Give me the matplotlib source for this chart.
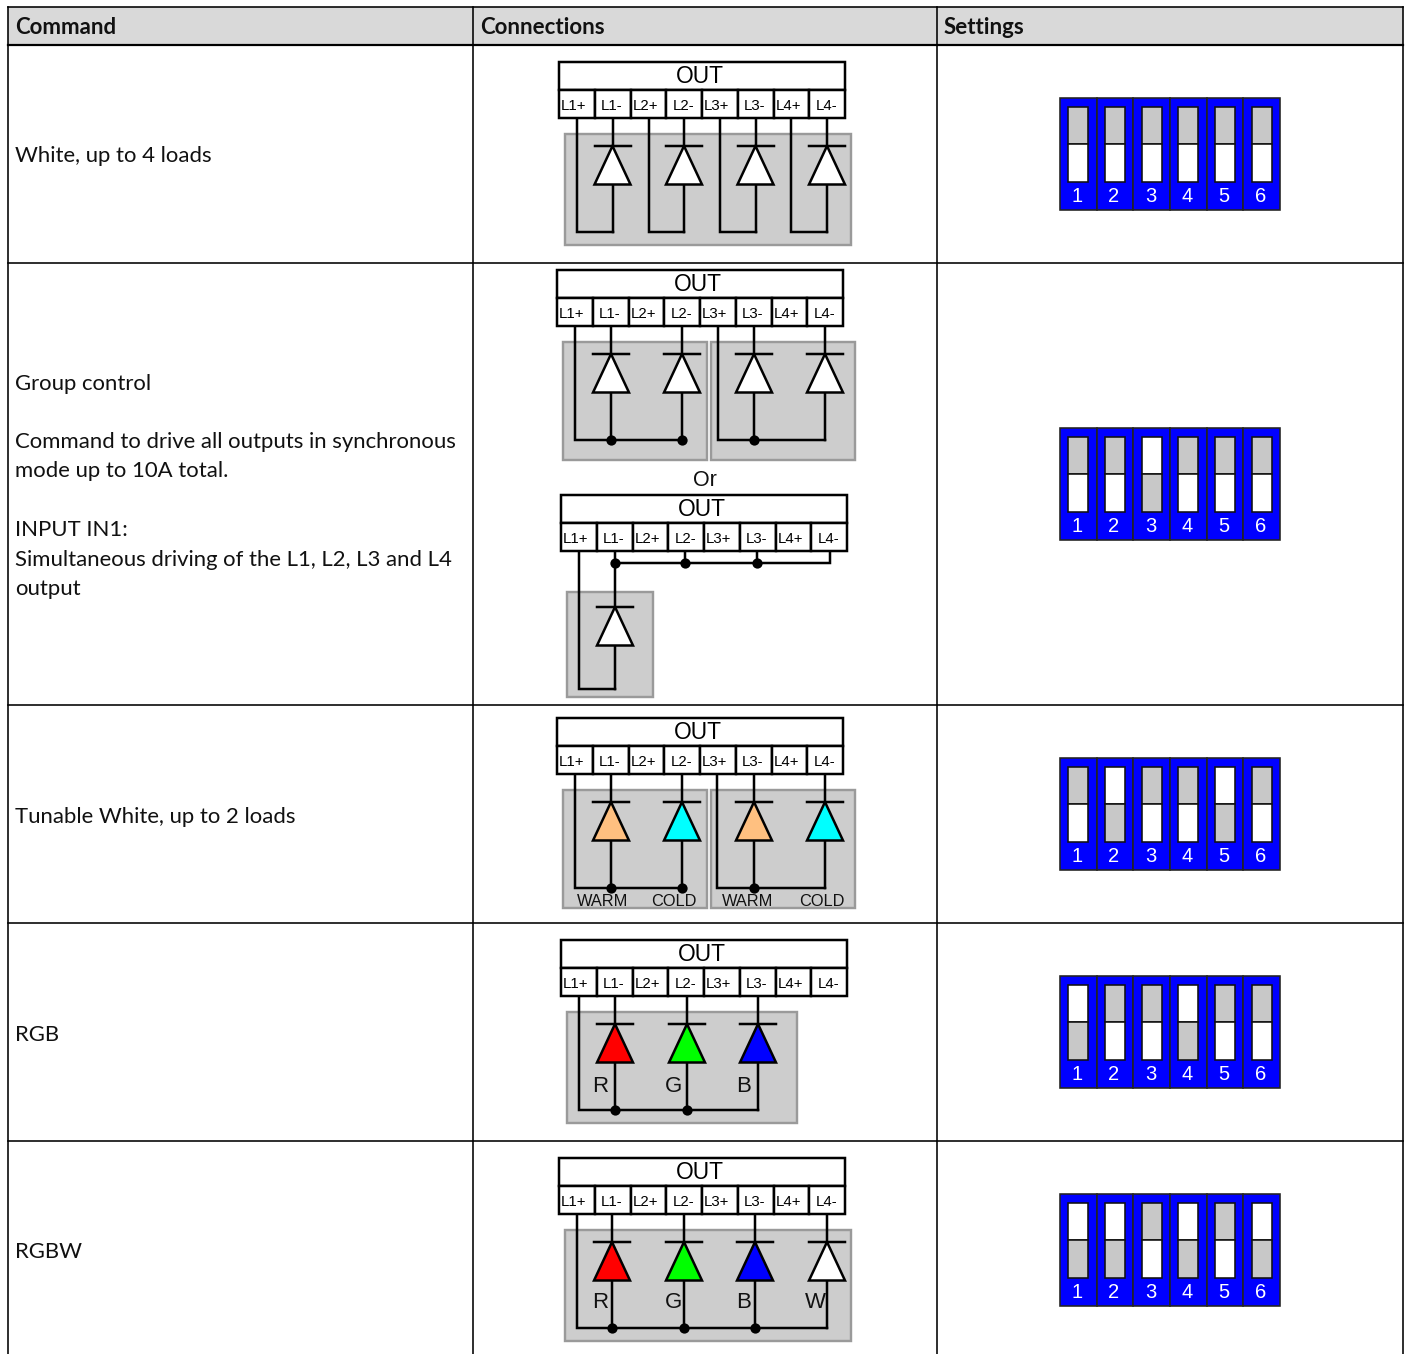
import matplotlib
matplotlib.use("Agg")
import matplotlib.pyplot as plt
from matplotlib.patches import Rectangle, Polygon

W, H = 1407, 1354
PX = 0.72

# ---- table content
col_x = [8, 473, 937, 1403]
row_y = [7, 45, 263, 705, 923, 1141]
headers = ["Command", "Connections", "Settings"]
command_lines = [
    ("White, up to 4 loads", 162),
    ("Group control", 390),
    ("Command to drive all outputs in synchronous", 448),
    ("mode up to 10A total.", 477),
    ("INPUT IN1:", 536),
    ("Simultaneous driving of the L1, L2, L3 and L4", 566),
    ("output", 595),
    ("Tunable White, up to 2 loads", 823),
    ("RGB", 1041),
    ("RGBW", 1258),
]
terminals = ["L1+", "L1-", "L2+", "L2-", "L3+", "L3-", "L4+", "L4-"]

# ---- DIP switch settings: 1 = white slider on top
dip_top = [98, 428, 758, 976, 1194]
dip_states = [
    [0, 0, 0, 0, 0, 0],
    [0, 0, 1, 0, 0, 0],
    [0, 1, 0, 0, 1, 0],
    [1, 0, 0, 1, 0, 0],
    [1, 1, 0, 1, 0, 1],
]
dip_labels = ["1", "2", "3", "4", "5", "6"]

# ---- LED colours
WHITE = "#FFFFFF"
WARM = "#FFC080"
COLD = "#00FFFF"
RED = "#FF0000"
GREEN = "#00FF00"
BLUE = "#0000FF"

fig = plt.figure(figsize=(W / 100, H / 100), dpi=100)
ax = fig.add_axes([0, 0, 1, 1])
ax.set_xlim(0, W)
ax.set_ylim(H, 0)
ax.axis("off")

TXT = ["Lato", "DejaVu Sans"]
ARIAL = ["Liberation Sans", "DejaVu Sans"]
LW = 2.5


def line(xs, ys, lw=LW, color="black", z=3):
    ax.plot(xs, ys, color=color, lw=lw * PX, solid_capstyle="projecting",
            solid_joinstyle="miter", zorder=z)


def out_block(x0, y0):
    tw = 286 / 8
    ax.add_patch(Rectangle((x0, y0), 286, 27.5, fc="white", ec="black", lw=LW * PX, zorder=5))
    ax.text(x0 + 140.5, y0 + 14.5, "OUT", family=ARIAL, fontsize=16.4, ha="center", va="center", zorder=6)
    for i, t in enumerate(terminals):
        ax.add_patch(Rectangle((x0 + i * tw, y0 + 27.5), tw, 28.5, fc="white", ec="black", lw=LW * PX, zorder=5))
        shift = -3.0 if t.endswith("+") else -1.0
        ax.text(x0 + (i + 0.5) * tw + shift, y0 + 44, t, family=ARIAL, fontsize=10.8, ha="center", va="center", zorder=6)


def panel(x0, x1, y0, y1):
    ax.add_patch(Rectangle((x0, y0), x1 - x0, y1 - y0, fc="#CDCDCD", ec="#9A9A9A", lw=2.4 * PX, zorder=1))


def diode(x, bar_y, fill=WHITE, bottom=None, top=None):
    base = bar_y + 38.5
    if top is not None:
        line([x, x], [top, bar_y])
    if bottom is not None:
        line([x, x], [base, bottom])
    ax.add_patch(Polygon([(x, bar_y), (x + 18, base), (x - 18, base)], closed=True,
                         fc=fill, ec="black", lw=LW * PX, joinstyle="miter", zorder=4))
    line([x - 18, x + 18], [bar_y, bar_y], z=4)


def dot(x, y):
    ax.plot([x], [y], "o", ms=7.4, color="black", mec="none", zorder=5)


def label(x, y, s, size=11.0):
    ax.text(x, y, s, family=ARIAL, fontsize=size, ha="center", va="center", color="#111111", zorder=6)


def dip(top, states):
    x0, cw, h = 1060, 36.67, 111.5
    for i, st in enumerate(states):
        x = x0 + i * cw
        ax.add_patch(Rectangle((x, top), cw, h, fc="#0000FF", ec="#222222", lw=1.6 * PX, zorder=2))
        sx = x + 8.3
        c_top, c_bot = (WHITE, "#C8C8C8") if st else ("#C8C8C8", WHITE)
        ax.add_patch(Rectangle((sx, top + 9), 20, 37, fc=c_top, ec="#111111", lw=1.6 * PX, zorder=3))
        ax.add_patch(Rectangle((sx, top + 46), 20, 37.5, fc=c_bot, ec="#111111", lw=1.6 * PX, zorder=3))
        ax.text(x + cw / 2 - 1.2, top + 98, dip_labels[i], family=ARIAL, fontsize=14.5, color="white",
                ha="center", va="center", zorder=4)


# ---- table
ax.add_patch(Rectangle((col_x[0], row_y[0]), col_x[-1] - col_x[0], row_y[1] - row_y[0],
                       fc="#D9D9D9", ec="none", zorder=0))
for x in col_x:
    ax.plot([x, x], [row_y[0], H], color="black", lw=1.6 * PX, zorder=7)
for k, y in enumerate(row_y):
    ax.plot([col_x[0], col_x[-1]], [y, y], color="black", lw=(2.2 if k == 1 else 1.6) * PX, zorder=7)
for x, s in zip(col_x, headers):
    ax.text(x + 7, 34, s, family=TXT, fontsize=16.0, fontweight="bold", va="baseline", color="#111111")
for s, y in command_lines:
    ax.text(15, y, s, family=TXT, fontsize=15.95, va="baseline", color="#111111")

# ---- row 1: white, 4 loads
out_block(559, 62)
panel(565, 851, 133.5, 245)
for wire, led in [(577, 612.5), (648.5, 684), (720, 755.5), (791, 827)]:
    diode(led, 146, bottom=232, top=118)
    line([wire, wire, led], [118, 232, 232])

# ---- row 2a: group control
out_block(557, 270)
panel(563, 707, 342, 460)
panel(711, 855, 342, 460)
for led in [611, 682, 754, 825]:
    diode(led, 354, bottom=440, top=326)
line([575, 575, 682], [326, 440, 440])
line([718, 718, 825], [326, 440, 440])
for x in [611, 682, 754]:
    dot(x, 440)
ax.text(705, 480, "Or", family=ARIAL, fontsize=15.5, ha="center", va="center", color="#111111")

# ---- row 2b: single load
out_block(561, 495)
panel(567, 653, 592, 697)
diode(615, 607, bottom=689, top=551)
line([579, 579, 615], [551, 689, 689])
line([615, 830, 830], [563, 563, 551])
line([685, 685], [551, 563])
line([757, 757], [551, 563])
for x in [615, 685, 757]:
    dot(x, 563)

# ---- row 3: tunable white
out_block(557, 718)
panel(563, 707, 790, 908)
panel(711, 855, 790, 908)
for led, c in zip([611, 682, 754, 825], [WARM, COLD, WARM, COLD]):
    diode(led, 802, fill=c, bottom=888, top=774)
line([575, 575, 682], [774, 888, 888])
line([717, 717, 825], [774, 888, 888])
for x in [611, 682, 754]:
    dot(x, 888)
for x, s in zip([603, 673.5, 747.5, 821.5], ["WARM", "COLD", "WARM", "COLD"]):
    label(x, 901, s, 11.8)

# ---- row 4: RGB
out_block(561, 940)
panel(567, 797, 1012, 1123)
for led, c in zip([615, 687, 758], [RED, GREEN, BLUE]):
    diode(led, 1024, fill=c, bottom=1110, top=996)
line([579, 579, 758], [996, 1110, 1110])
for x in [615, 687]:
    dot(x, 1110)
for x, s in zip([600, 673, 744], ["R", "G", "B"]):
    label(x, 1086, s, 16)

# ---- row 5: RGBW
out_block(559, 1158)
panel(565, 851, 1230, 1341)
for led, c in zip([612, 684, 755, 827], [RED, GREEN, BLUE, WHITE]):
    diode(led, 1242, fill=c, bottom=1328, top=1214)
line([577, 577, 827], [1214, 1328, 1328])
for x in [612, 684, 755]:
    dot(x, 1328)
for x, s in zip([600, 674, 744, 815], ["R", "G", "B", "W"]):
    label(x, 1303, s, 16)

# ---- DIP switches
for t, st in zip(dip_top, dip_states):
    dip(t, st)

fig.savefig("out.png", dpi=100, facecolor="white")
